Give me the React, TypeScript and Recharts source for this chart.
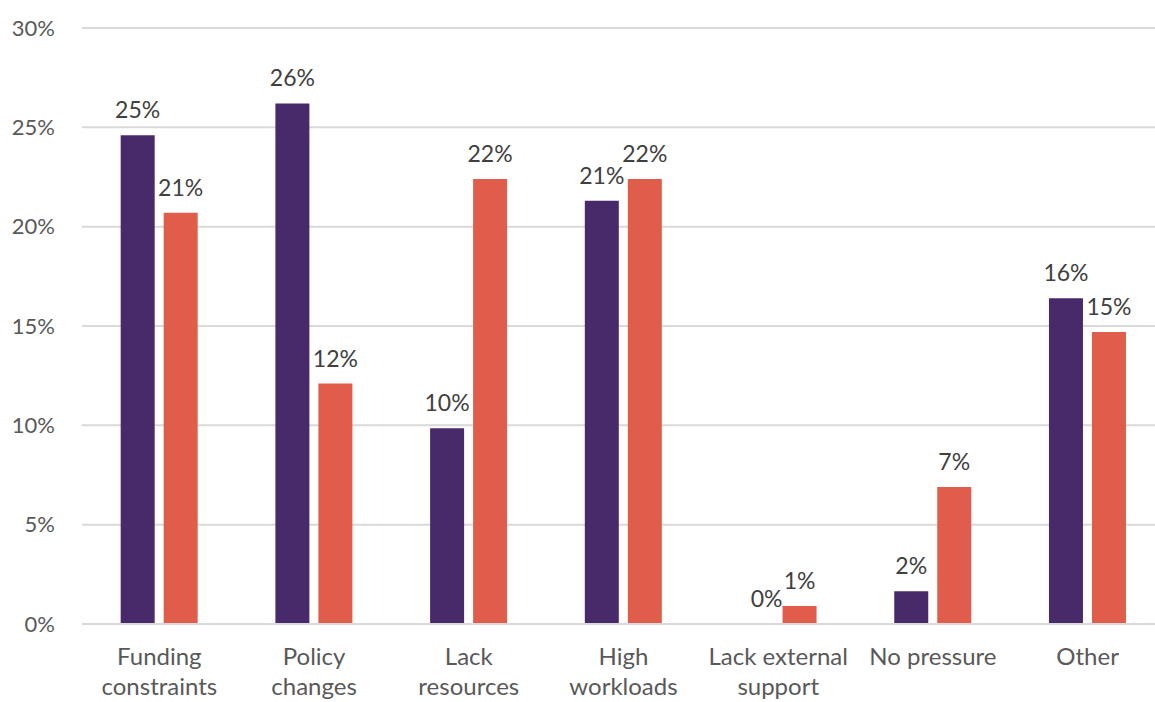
import React from "react";
import { BarChart, Bar, XAxis, YAxis, CartesianGrid, LabelList, Cell } from "recharts";

const categories = [
  "Funding constraints",
  "Policy changes",
  "Lack resources",
  "High workloads",
  "Lack external support",
  "No pressure",
  "Other",
];
const seriesA = [24.6, 26.2, 9.85, 21.3, 0, 1.65, 16.4];
const seriesB = [20.7, 12.1, 22.4, 22.4, 0.9, 6.9, 14.7];
const yTicks = [0, 5, 10, 15, 20, 25, 30];

const tickLines: Record<string, string[]> = {
  "Funding constraints": ["Funding", "constraints"],
  "Policy changes": ["Policy", "changes"],
  "Lack resources": ["Lack", "resources"],
  "High workloads": ["High", "workloads"],
  "Lack external support": ["Lack external", "support"],
  "No pressure": ["No pressure"],
  Other: ["Other"],
};

const data = categories.map((c, i) => ({ name: c, a: seriesA[i], b: seriesB[i] }));

const font = "Lato, 'Open Sans', sans-serif";
const purple = "#482a6b";
const orange = "#e05d4b";

const CategoryTick = (props: any) => {
  const { x, y, payload } = props;
  const lines = tickLines[payload.value] || [payload.value];
  return (
    <text x={x} y={y} textAnchor="middle" fill="#595959" fontSize={24} fontFamily={font}>
      {lines.map((l, i) => (
        <tspan key={i} x={x} dy={i === 0 ? 33 : 30}>
          {l}
        </tspan>
      ))}
    </text>
  );
};

// value labels; zero bars get a 1px invisible bar so their label still shows
const ValueLabel = (props: any) => {
  const { x, y, width, height, value } = props;
  if (x == null || y == null) return null;
  const zero = Number(value) === 0;
  const top = zero ? y + height : y;
  return (
    <text x={x + width / 2 + (zero ? 10 : 0)} y={top - 17} textAnchor="middle" fill="#404040" fontSize={23} fontFamily={font}>
      {`${Math.round(Number(value))}%`}
    </text>
  );
};

export default function App() {
  return (
    <div style={{ position: "absolute", left: 0, top: 0, width: 1155, height: 702, overflow: "hidden", background: "#fff" }}>
      <BarChart
        width={1165}
        height={702}
        data={data}
        margin={{ top: 28, right: 0, left: 0, bottom: 0 }}
        barCategoryGap="25%"
        barGap={9}
      >
        <CartesianGrid vertical={false} stroke="#d9d9d9" strokeWidth={2} />
        <XAxis
          dataKey="name"
          tick={<CategoryTick />}
          tickLine={false}
          axisLine={{ stroke: "#d9d9d9", strokeWidth: 2 }}
          height={78}
          interval={0}
        />
        <YAxis
          domain={[0, 30]}
          ticks={yTicks}
          tickFormatter={(v) => `${v}%`}
          tickLine={false}
          axisLine={false}
          width={82}
          tickMargin={27}
          tickSize={0}
          tick={{ fill: "#595959", fontSize: 22, fontFamily: font }}
        />
        <Bar dataKey="a" fill={purple} isAnimationActive={false} minPointSize={1}>
          {seriesA.map((v, i) => (
            <Cell key={i} fill={v === 0 ? "transparent" : purple} />
          ))}
          <LabelList dataKey="a" content={<ValueLabel />} />
        </Bar>
        <Bar dataKey="b" fill={orange} isAnimationActive={false}>
          <LabelList dataKey="b" content={<ValueLabel />} />
        </Bar>
      </BarChart>
    </div>
  );
}
